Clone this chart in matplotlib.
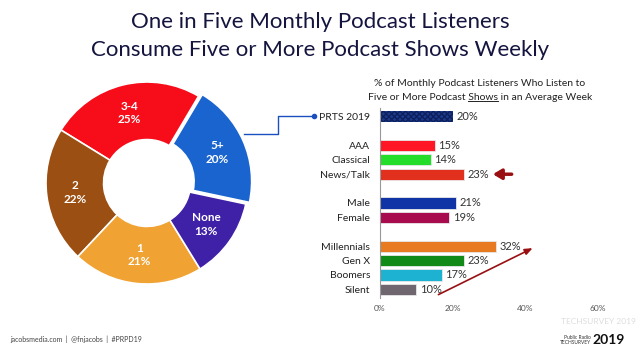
import numpy as np
import matplotlib
matplotlib.use("Agg")
import matplotlib.pyplot as plt
from matplotlib.lines import Line2D

plt.rcParams['font.family'] = ['Lato', 'DejaVu Sans']

# donut data (counter-clockwise starting at the 5+ slice)
pie_labels = ["5+", "3-4", "2", "1", "None"]
pie_values = [20, 25, 22, 21, 13]
pie_colors = ["#1a64cf", "#f70d1a", "#9b4f12", "#f0a232", "#3f21a8"]

# bar data
bar_labels = ["PRTS 2019", "AAA", "Classical", "News/Talk", "Male", "Female",
              "Millennials", "Gen X", "Boomers", "Silent"]
bar_values = [20, 15, 14, 23, 21, 19, 32, 23, 17, 10]
bar_pos = [0, 2, 3, 4, 6, 7, 9, 10, 11, 12]
bar_colors = ["#1c3a8c", "#ff1726", "#24dd2a", "#e2301e", "#1034a6", "#a80c4e",
              "#e87a22", "#118a18", "#1eb2d2", "#6f6670"]
xticks = [0, 20, 40, 60]

W, H = 640, 355
fig = plt.figure(figsize=(6.4, 3.55), dpi=100)
fig.patch.set_facecolor("white")

fig.text(0.5, 1 - 22 / H, "One in Five Monthly Podcast Listeners", ha="center", va="center",
         fontsize=16, color="#14143f")
fig.text(0.5, 1 - 50 / H, "Consume Five or More Podcast Shows Weekly", ha="center", va="center",
         fontsize=16, color="#14143f")

# donut
cx, cy, r = 147, 183, 101
ax_d = fig.add_axes([(cx - 110) / W, (H - cy - 110) / H, 220 / W, 220 / H])
rad = r / 100
explode = [0.04, 0, 0, 0, 0]
wedges, _ = ax_d.pie(pie_values, colors=pie_colors, startangle=-12, counterclock=True,
                     radius=rad, explode=explode,
                     wedgeprops=dict(width=rad * 0.57, edgecolor="white", linewidth=1.2))
ax_d.set_xlim(-1.1, 1.1)
ax_d.set_ylim(-1.1, 1.1)
ax_d.set_aspect("equal")
ax_d.axis("off")
for w, lab, v, ex in zip(wedges, pie_labels, pie_values, explode):
    ang = np.deg2rad((w.theta1 + w.theta2) / 2)
    rr = rad * 0.715 + ex
    ax_d.text(rr * np.cos(ang), rr * np.sin(ang), f"{lab}\n{v}%", ha="center", va="center",
              color="white", fontsize=8.5, fontweight="bold", linespacing=1.3)

# bars
ax_b = fig.add_axes([380 / W, (H - 298) / H, 218 / W, 190 / H])
bars = ax_b.barh(bar_pos, bar_values, height=0.78, color=bar_colors,
                 edgecolor="#e8e8e8", linewidth=0.6)
bars[0].set_hatch("xxxxxx")
bars[0].set_edgecolor("#0d1f5c")
bars[0].set_linewidth(0)
ax_b.set_xlim(0, 60)
ax_b.set_ylim(12.6, -0.6)
ax_b.set_yticks(bar_pos)
ax_b.set_yticklabels(bar_labels, fontsize=7.5, color="#222222")
ax_b.set_xticks(xticks)
ax_b.set_xticklabels([f"{t}%" for t in xticks], fontsize=6, color="#555555")
ax_b.tick_params(axis="both", length=0)
ax_b.tick_params(axis="y", pad=7)
ax_b.tick_params(axis="x", pad=5)
for s in ["top", "right", "bottom"]:
    ax_b.spines[s].set_visible(False)
ax_b.spines["left"].set_color("#999999")
ax_b.spines["left"].set_linewidth(0.8)
for p, v in zip(bar_pos, bar_values):
    ax_b.text(v + 1, p, f"{v}%", va="center", ha="left", fontsize=8, color="#333333")

# arrows
ax_b.annotate("", xy=(30.3, 4), xytext=(37, 4),
              arrowprops=dict(arrowstyle="-|>,head_length=0.5,head_width=0.3", color="#9a1012",
                              lw=2.5))
ax_b.annotate("", xy=(42.7, 9.05), xytext=(15.4, 12.45), annotation_clip=False,
              arrowprops=dict(arrowstyle="-|>,head_length=0.45,head_width=0.18", color="#9a1012",
                              lw=1.2))

# bar subtitle with underlined word
sub_x, sub_y1, sub_y2 = 480 / W, 1 - 84 / H, 1 - 98 / H
fig.text(sub_x, sub_y1, "% of Monthly Podcast Listeners Who Listen to", ha="center", va="center",
         fontsize=7.5, color="#222222")
line2 = "Five or More Podcast Shows in an Average Week"
t2 = fig.text(sub_x, sub_y2, line2, ha="center", va="center", fontsize=7.5, color="#222222")
fig.canvas.draw()
rend = fig.canvas.get_renderer()
bb = t2.get_window_extent(rend)
tmp = fig.text(0, 0, "Five or More Podcast ", fontsize=7.5)
pre_w = tmp.get_window_extent(rend).width
tmp.set_text("Shows")
sh_w = tmp.get_window_extent(rend).width
tmp.remove()
ux0 = (bb.x0 + pre_w) / W
ux1 = (bb.x0 + pre_w + sh_w) / W
uy = (bb.y0 + 1) / H
fig.add_artist(Line2D([ux0, ux1], [uy, uy], transform=fig.transFigure, color="#222222", lw=0.7))

# connector from donut slice to PRTS bar
px = [244, 278, 278, 314]
py = [134, 134, 116, 116]
fig.add_artist(Line2D([x / W for x in px], [1 - y / H for y in py], transform=fig.transFigure,
                      color="#1a4fc0", lw=1.0))
fig.add_artist(Line2D([314 / W], [1 - 116 / H], transform=fig.transFigure, marker="o",
                      markersize=3, color="#1a4fc0"))

# footer
fig.text(10 / W, 1 - 339 / H, "jacobsmedia.com  |  @fnjacobs  |  #PRPD19", fontsize=5,
         color="#444444", va="center")
fig.text(636 / W, 1 - 322 / H, "TECHSURVEY 2019", fontsize=6, color="#dddddd", va="center",
         ha="right")
fig.text(591 / W, 1 - 340 / H, "Public Radio\nTECHSURVEY", fontsize=3.5, color="#333333",
         va="center", ha="right", linespacing=1.0)
fig.text(592 / W, 1 - 340 / H, "2019", fontsize=10, fontweight="bold", color="#111111",
         va="center", ha="left")

fig.savefig("out.png", dpi=100)
